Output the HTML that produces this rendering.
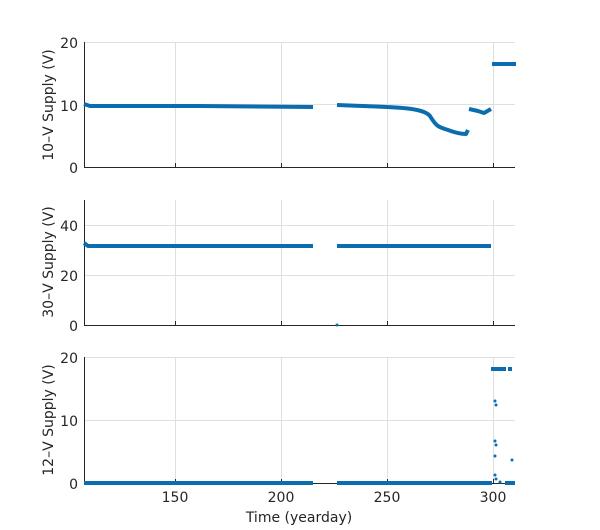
<!DOCTYPE html><html><head><style>body{margin:0;background:#fff}svg{font-family:"DejaVu Sans","Liberation Sans",sans-serif}</style></head><body>
<svg width="600" height="525" viewBox="0 0 600 525">
<rect width="600" height="525" fill="#fff"/>
<g stroke="#dfdfdf" stroke-width="1">
<line x1="175.5" y1="42" x2="175.5" y2="167"/><line x1="281.5" y1="42" x2="281.5" y2="167"/><line x1="387.5" y1="42" x2="387.5" y2="167"/><line x1="493.5" y1="42" x2="493.5" y2="167"/>
<line x1="84" y1="42.5" x2="515" y2="42.5"/><line x1="84" y1="104.5" x2="515" y2="104.5"/>
<line x1="175.5" y1="200" x2="175.5" y2="325"/><line x1="281.5" y1="200" x2="281.5" y2="325"/><line x1="387.5" y1="200" x2="387.5" y2="325"/><line x1="493.5" y1="200" x2="493.5" y2="325"/>
<line x1="84" y1="225.5" x2="515" y2="225.5"/><line x1="84" y1="275.5" x2="515" y2="275.5"/>
<line x1="175.5" y1="357" x2="175.5" y2="483"/><line x1="281.5" y1="357" x2="281.5" y2="483"/><line x1="387.5" y1="357" x2="387.5" y2="483"/><line x1="493.5" y1="357" x2="493.5" y2="483"/>
<line x1="84" y1="357.5" x2="515" y2="357.5"/><line x1="84" y1="420.5" x2="515" y2="420.5"/>
</g>
<g stroke="#262626" stroke-width="1" fill="none">
<path d="M84.5 42V167.5H515"/><path d="M84.5 200V325.5H515"/><path d="M84.5 357V483.5H515"/>
<path d="M175.5 167v-4M281.5 167v-4M387.5 167v-4M493.5 167v-4M175.5 325v-4M281.5 325v-4M387.5 325v-4M493.5 325v-4M175.5 483v-4M281.5 483v-4M387.5 483v-4M493.5 483v-4"/>
</g>
<g stroke="#0b6db0" stroke-width="4" fill="none" stroke-linejoin="round">
<polyline points="84,104 90,106 200,106 313,107"/>
<path d="M337,105 L387,107 C410,108 425,110 430,116 C436,126 438,127 448,130 C456,133 462,134 466,134 L468,130"/>
<polyline points="469,109 478,111 484,113 491,109"/>
<polyline points="492,64 516,64"/>
<polyline points="84,243 88,246 200,246 313,246"/>
<polyline points="337,246 491,246"/>
<polyline points="84,483 313,483"/><polyline points="337,483 492,483"/>
<polyline points="491,369 506,369"/><polyline points="508,369 512,369"/>
<polyline points="505,483 515,483"/>
</g>
<g fill="#0b6db0">
<circle cx="337" cy="325" r="1.5"/>
<circle cx="495" cy="401" r="1.5"/><circle cx="496" cy="405" r="1.5"/><circle cx="495" cy="441" r="1.5"/><circle cx="496" cy="445" r="1.5"/><circle cx="495" cy="456" r="1.5"/><circle cx="495" cy="475" r="1.5"/><circle cx="496" cy="479" r="1.5"/><circle cx="512" cy="460" r="1.5"/><circle cx="500" cy="482" r="1.5"/>
</g>
<g fill="#262626" font-size="14" text-anchor="end">
<text x="78" y="48">20</text><text x="78" y="111">10</text><text x="78" y="173">0</text>
<text x="78" y="231">40</text><text x="78" y="281">20</text><text x="78" y="331">0</text>
<text x="78" y="363">20</text><text x="78" y="426">10</text><text x="78" y="489">0</text>
</g>
<g fill="#262626" font-size="14" text-anchor="middle">
<text x="175" y="502">150</text><text x="281" y="502">200</text><text x="387" y="502">250</text><text x="493" y="502">300</text>
<text x="299" y="522">Time (yearday)</text>
<text transform="translate(53,105) rotate(-90)">10–V Supply (V)</text>
<text transform="translate(53,262) rotate(-90)">30–V Supply (V)</text>
<text transform="translate(53,420) rotate(-90)">12–V Supply (V)</text>
</g>
</svg></body></html>
